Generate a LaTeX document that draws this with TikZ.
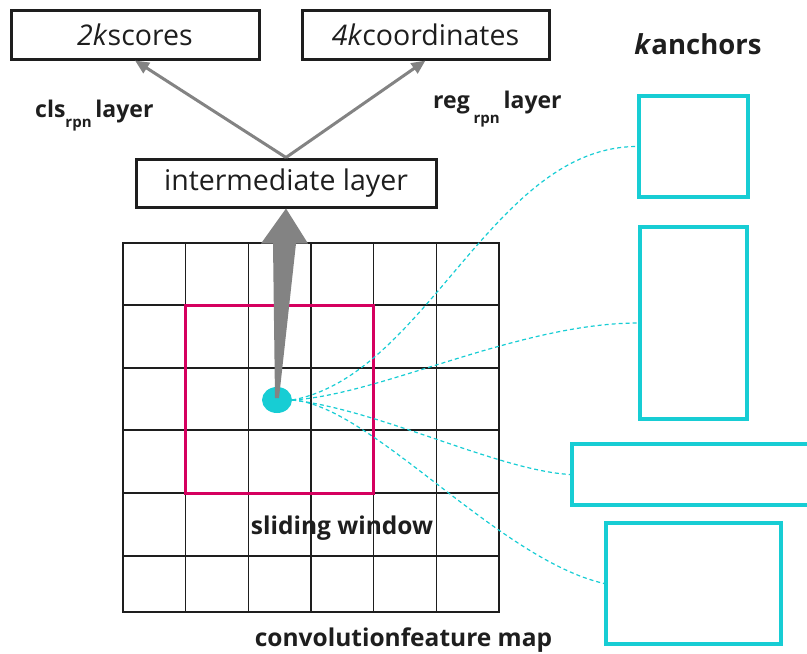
\documentclass[tikz,border=0pt]{standalone}
\usepackage{fontspec}
\setmainfont{Open Sans}
\usepackage{tikz}
\usetikzlibrary{positioning,arrows.meta,shapes.geometric,calc}
\definecolor{anccyan}{HTML}{17CDD4}
\definecolor{winred}{HTML}{D5005F}
\definecolor{arrowgray}{HTML}{838383}
\definecolor{ink}{HTML}{1E1E1E}

\begin{document}
\begin{tikzpicture}[
  x=1pt,y=-1pt,
  font=\fontsize{28.5}{31}\selectfont,
  box/.style={draw=ink,line width=3pt,fill=white,inner sep=0pt,text=ink},
  lbl/.style={font=\fontsize{24.5}{27}\selectfont\bfseries,text=ink,inner sep=0pt},
  layerlbl/.style={lbl,font=\fontsize{23}{26}\selectfont\bfseries,anchor=base west},
  ancbox/.style={draw=anccyan,line width=3.5pt,inner sep=0pt},
  window/.style={draw=winred,line width=3pt,inner sep=0pt},
  cell/.style={draw=ink,line width=1.5pt},
  edge/.style={-{Triangle[length=14pt,width=12pt]},draw=arrowgray,line width=3pt},
  link/.style={draw=anccyan,line width=1.2pt,dash pattern=on 4pt off 3pt}
]
\useasboundingbox (0,0) rectangle (807,654);

% feature map grid
\draw[cell] (123,243) rectangle (499,612);
\foreach \gx in {185.7,248.3,311,373.7,436.3}
  \draw[cell] (\gx,243) -- (\gx,612);
\foreach \gy in {305,368,430,493,556}
  \draw[cell] (123,\gy) -- (499,\gy);

\node[window,minimum width=188pt,minimum height=188pt] (win) at (279.7,399) {};
\node[ellipse,fill=anccyan,minimum width=30pt,minimum height=26pt,inner sep=0pt] (dot) at (277,400) {};

% boxes
\node[box,minimum width=300pt,minimum height=48pt] (inter) at (286,183) {intermediate layer};
\node[box,minimum width=248pt,minimum height=49pt] (scores) at (135,34.5) {\textit{2k}scores};
\node[box,minimum width=247pt,minimum height=49pt] (coords) at (425.5,34.5) {\textit{4k}coordinates};

\draw[edge] (inter.north) -- (scores.south);
\draw[edge] (inter.north) -- (coords.south);

% tapered arrow from the window centre
\fill[arrowgray] ($(dot.center)+(-2,-2)$) -- ($(inter.south)+(-13,35)$) -- ($(inter.south)+(-25,35)$)
  -- (inter.south) -- ($(inter.south)+(22,35)$) -- ($(inter.south)+(10,35)$)
  -- ($(dot.center)+(2,-2)$) -- cycle;

% anchors
\node[ancbox,minimum width=109pt,minimum height=101pt] (anc1) at (693.5,146.5) {};
\node[ancbox,minimum width=107pt,minimum height=192pt] (anc2) at (693.5,323) {};
\node[ancbox,minimum width=240pt,minimum height=61pt] (anc3) at (692,474.5) {};
\node[ancbox,minimum width=175pt,minimum height=121pt] (anc4) at (693.5,583.5) {};

\draw[link] (dot.east) .. controls +(135,-25) and +(-145,0) .. (anc1.west);
\draw[link] (dot.east) .. controls +(88,-5) and +(-119,0) .. (anc2.west);
\draw[link] (dot.east) .. controls +(88,10) and +(-72,-4) .. (anc3.west);
\draw[link] (dot.east) .. controls +(78,5) and +(-106,-24) .. (anc4.west);

% labels
\node[lbl,font=\fontsize{27.5}{30}\selectfont\bfseries] (anctitle) at (698,44) {\textit{k}anchors};
\node[layerlbl] (clslbl) at (35,117) {cls\raisebox{-10pt}{\fontsize{15}{15}\selectfont rpn}\,layer};
\node[layerlbl] (reglbl) at (433,108) {reg\,\raisebox{-15pt}{\fontsize{15}{15}\selectfont rpn}\,layer};
\node[lbl,anchor=base] (slidlbl) at (342,534) {sliding window};
\node[lbl,anchor=base] (convlbl) at (403.5,646) {convolutionfeature map};
\end{tikzpicture}
\end{document}
